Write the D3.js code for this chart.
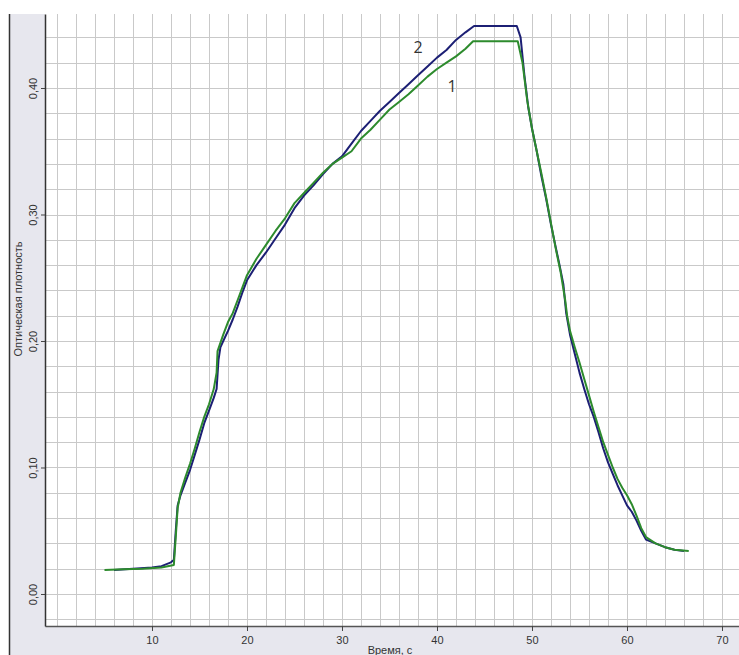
<!DOCTYPE html>
<html>
<head>
<meta charset="utf-8">
<script src="https://cdnjs.cloudflare.com/ajax/libs/d3/7.8.5/d3.min.js"></script>
<style>
    body { margin: 0; background: #fff; }
    svg { display: block; font-family: "Liberation Sans", Arial, sans-serif; }
</style>
</head>
<body>
<svg id="chart" width="739" height="655"></svg>
<script>
// время, с
var time1 = [5.0, 7, 9, 11, 12.3, 12.5, 12.7, 13.0, 13.5, 14, 14.5, 15, 15.5, 16, 16.5, 16.8, 16.9, 17.5, 18, 18.5,
    19, 19.5, 20, 21, 22, 23, 24, 25, 26, 27, 28, 29, 30, 31, 32, 33, 34, 35, 36, 37, 38, 39, 40, 41, 42, 43, 43.8,
    48.5, 49, 49.5, 50, 50.5, 51, 51.5, 52, 52.5, 53, 53.5, 53.7, 54, 54.5, 55, 55.5, 56, 56.5, 57, 57.5, 58, 58.5,
    59, 59.5, 60, 60.5, 61, 61.5, 62, 63, 64, 65, 66.5];
// кривая 1
var density1 = [0.019, 0.0195, 0.020, 0.021, 0.023, 0.045, 0.068, 0.080, 0.092, 0.103, 0.115, 0.128, 0.140, 0.150, 0.162, 0.175, 0.192, 0.205, 0.215, 0.222,
    0.232, 0.242, 0.252, 0.265, 0.276, 0.287, 0.297, 0.309, 0.317, 0.325, 0.333, 0.340, 0.345, 0.350, 0.360, 0.367, 0.375, 0.383, 0.389, 0.395, 0.402, 0.409, 0.415, 0.420, 0.425, 0.431, 0.437,
    0.437, 0.420, 0.390, 0.368, 0.350, 0.332, 0.313, 0.293, 0.273, 0.255, 0.232, 0.220, 0.208, 0.195, 0.183, 0.170, 0.157, 0.144, 0.132, 0.120, 0.110, 0.100,
    0.091, 0.084, 0.078, 0.071, 0.062, 0.052, 0.045, 0.040, 0.037, 0.035, 0.034];

var time2 = [6, 8, 10, 11, 12, 12.3, 12.5, 12.7, 13, 13.5, 14, 14.5, 15, 15.5, 16, 16.5, 16.8, 17, 17.2, 17.5, 18, 18.5,
    19, 19.5, 20, 21, 22, 23, 24, 25, 26, 27, 28, 29, 30, 31, 32, 33, 34, 35, 36, 37, 38, 39, 40, 41, 42, 43, 43.9,
    48.4, 48.8, 49.2, 49.6, 50, 50.5, 51, 51.5, 52, 52.5, 52.9, 53.3, 53.6, 54, 54.5, 55, 55.5, 56, 56.5, 57, 57.5, 58, 58.5,
    59, 59.5, 60, 60.5, 61, 61.5, 62, 63, 64, 65, 66];
// кривая 2
var density2 = [0.019, 0.020, 0.021, 0.022, 0.025, 0.027, 0.050, 0.070, 0.078, 0.088, 0.098, 0.110, 0.122, 0.135, 0.145, 0.155, 0.162, 0.185, 0.195, 0.200, 0.208, 0.217,
    0.227, 0.238, 0.248, 0.260, 0.270, 0.281, 0.292, 0.305, 0.315, 0.323, 0.332, 0.340, 0.346, 0.356, 0.366, 0.374, 0.382, 0.389, 0.396, 0.403, 0.410, 0.417, 0.424, 0.430, 0.438, 0.444, 0.449,
    0.449, 0.440, 0.410, 0.385, 0.368, 0.350, 0.330, 0.312, 0.292, 0.274, 0.260, 0.245, 0.222, 0.205, 0.190, 0.175, 0.162, 0.150, 0.140, 0.128, 0.115, 0.104, 0.095,
    0.086, 0.078, 0.070, 0.065, 0.058, 0.050, 0.043, 0.040, 0.037, 0.035, 0.034];

var xTicks = [10, 20, 30, 40, 50, 60, 70];
var yTicks = [0, 0.1, 0.2, 0.3, 0.4];
var curveNames = ["1", "2"];
var namePos = [[41.6, 0.401], [38.0, 0.432]];

var svg = d3.select("#chart");
var plotLeft = 45, plotTop = 14, plotRight = 739, plotBottom = 626;

var x = d3.scaleLinear().domain([-1.263, 71.79]).range([plotLeft, plotRight]);
var y = d3.scaleLinear().domain([-0.0253, 0.4585]).range([plotBottom, plotTop]);

// серая рамка
svg.append("rect").attr("x", 9).attr("y", plotTop).attr("width", plotRight - 9).attr("height", 655 - plotTop).attr("fill", "#e7e7ee");
svg.append("rect").attr("x", plotLeft).attr("y", plotTop).attr("width", plotRight - plotLeft).attr("height", plotBottom - plotTop).attr("fill", "#fff");
svg.append("line").attr("x1", 9.5).attr("x2", 9.5).attr("y1", plotTop).attr("y2", 655).attr("stroke", "#333").attr("stroke-width", 1.5);

// сетка
var grid = svg.append("g").attr("stroke", "#c9c9c9").attr("stroke-width", 1);
d3.range(0, 72, 2).forEach(function (v) {
    grid.append("line").attr("x1", Math.round(x(v)) + 0.5).attr("x2", Math.round(x(v)) + 0.5)
        .attr("y1", plotTop).attr("y2", plotBottom);
});
d3.range(-0.02, 0.46, 0.02).forEach(function (v) {
    grid.append("line").attr("x1", plotLeft).attr("x2", plotRight)
        .attr("y1", Math.round(y(v)) + 0.5).attr("y2", Math.round(y(v)) + 0.5);
});

// оси
var xAxis = svg.append("g").attr("transform", "translate(0," + plotBottom + ")")
    .call(d3.axisBottom(x).tickValues(xTicks).tickSize(5).tickSizeOuter(0).tickFormat(d3.format("d")));
xAxis.select(".domain").attr("stroke", "#555").attr("stroke-width", 1.5);
xAxis.selectAll("line").attr("stroke", "#444");
xAxis.selectAll("text").attr("font-size", 11).attr("fill", "#333").attr("dy", "0.95em");

var yAxis = svg.append("g").attr("transform", "translate(" + plotLeft + ",0)")
    .call(d3.axisLeft(y).tickValues(yTicks).tickSize(4).tickSizeOuter(0)
        .tickFormat(function (d) { return d3.format(".2f")(d).replace(".", ","); }));
yAxis.select(".domain").attr("stroke", "#333").attr("stroke-width", 1.5);
yAxis.selectAll("line").attr("stroke", "#444");
yAxis.selectAll("text").attr("font-size", 11).attr("fill", "#333")
    .attr("x", null).attr("dy", null)
    .attr("text-anchor", "middle")
    .attr("transform", "translate(-8,0) rotate(-90)");

svg.append("text").attr("x", 390).attr("y", 654).attr("text-anchor", "middle")
    .attr("font-size", 11).attr("fill", "#333").text("Время, с");
svg.append("text").attr("transform", "translate(22,299) rotate(-90)").attr("text-anchor", "middle")
    .attr("font-size", 11).attr("fill", "#333").text("Оптическая плотность");

// кривые
var line = d3.line().x(function (d) { return x(d[0]); }).y(function (d) { return y(d[1]); });
var series = [
    { t: time2, v: density2, color: "#1c1f74" },
    { t: time1, v: density1, color: "#2d8b2d" }
];
series.forEach(function (s) {
    var pts = s.t.map(function (t, i) { return [t, s.v[i]]; });
    svg.append("path").datum(pts).attr("d", line)
        .attr("fill", "none").attr("stroke", s.color).attr("stroke-width", 2)
        .attr("stroke-linejoin", "round");
});

curveNames.forEach(function (n, i) {
    svg.append("text").attr("x", x(namePos[i][0])).attr("y", y(namePos[i][1]))
        .attr("text-anchor", "middle").attr("dy", "0.35em")
        .attr("font-family", "'Open Sans', sans-serif")
        .attr("font-size", 16).attr("fill", "#333").text(n);
});
</script>
</body>
</html>
